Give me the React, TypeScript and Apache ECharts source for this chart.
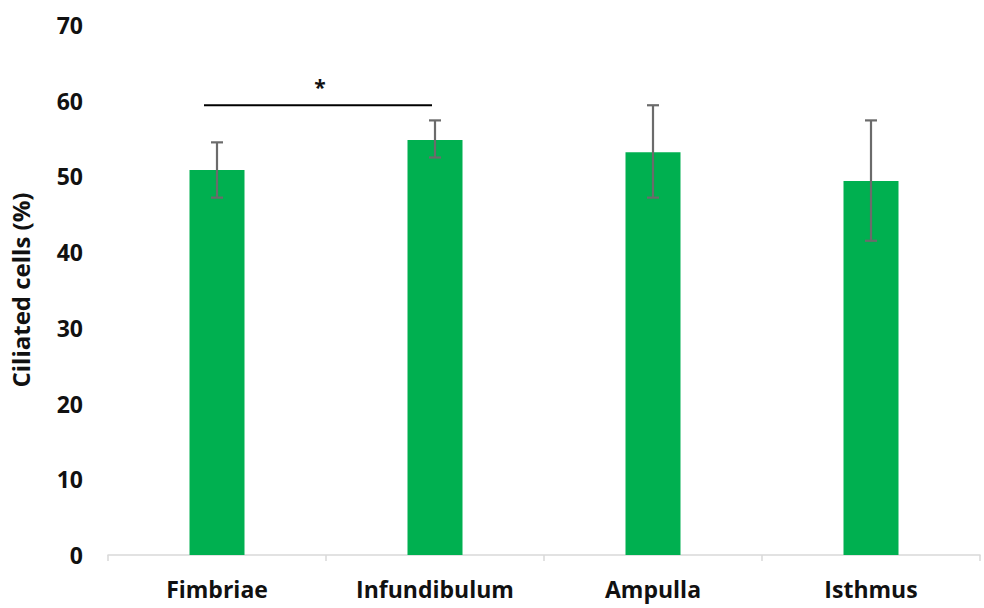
import React, { useEffect, useRef } from "react";
import * as echarts from "echarts";

const categories = ["Fimbriae", "Infundibulum", "Ampulla", "Isthmus"];
const means = [50.85, 54.8, 53.2, 49.4];
const errLow = [47.2, 52.5, 47.2, 41.5];
const errHigh = [54.5, 57.4, 59.4, 57.4];
const yTicks = { min: 0, max: 70, interval: 10 };
const sigPair = [0, 1];
const sigLevel = 59.4;
const sigMark = "*";

const FONT = "'Open Sans', 'Noto Sans', sans-serif";

export default function App() {
  const ref = useRef<HTMLDivElement>(null);
  useEffect(() => {
    if (!ref.current) return;
    const chart = echarts.init(ref.current, undefined, { renderer: "svg" });
    const errData = categories.map((_, i) => [i, errLow[i], errHigh[i]]);
    chart.setOption({
      animation: false,
      backgroundColor: "#ffffff",
      grid: { left: 108, right: 4, top: 25, bottom: 53, containLabel: false },
      xAxis: {
        type: "category",
        data: categories,
        axisLine: { show: true, lineStyle: { color: "#d9d9d9", width: 1.5 } },
        axisTick: { show: true, length: 6, lineStyle: { color: "#d9d9d9", width: 1.5 } },
        axisLabel: { color: "#111", fontSize: 23, fontWeight: "bold", fontFamily: FONT, margin: 22 },
        splitLine: { show: false },
      },
      yAxis: {
        type: "value",
        min: yTicks.min,
        max: yTicks.max,
        interval: yTicks.interval,
        name: "Ciliated cells (%)",
        nameLocation: "middle",
        nameRotate: 90,
        nameGap: 76,
        nameTextStyle: { color: "#111", fontSize: 24, fontWeight: "bold", fontFamily: FONT },
        axisLine: { show: false },
        axisTick: { show: false },
        splitLine: { show: false },
        axisLabel: { color: "#111", fontSize: 23, fontWeight: "bold", fontFamily: FONT, margin: 25 },
      },
      series: [
        {
          type: "bar",
          data: means,
          barWidth: 55,
          itemStyle: { color: "#00b050" },
          z: 2,
        },
        {
          type: "custom",
          data: errData,
          z: 3,
          renderItem: (params: any, api: any) => {
            const x = api.coord([api.value(0), 0])[0];
            const lo = api.coord([api.value(0), api.value(1)])[1];
            const hi = api.coord([api.value(0), api.value(2)])[1];
            const w = 6;
            const style = { stroke: "#6b6b6b", lineWidth: 2.2 };
            return {
              type: "group",
              children: [
                { type: "line", shape: { x1: x, y1: lo, x2: x, y2: hi }, style },
                { type: "line", shape: { x1: x - w, y1: hi, x2: x + w, y2: hi }, style },
                { type: "line", shape: { x1: x - w, y1: lo, x2: x + w, y2: lo }, style },
              ],
            };
          },
        },
        {
          type: "custom",
          data: [[sigPair[0], sigPair[1], sigLevel]],
          z: 4,
          renderItem: (params: any, api: any) => {
            const x1 = api.coord([api.value(0), 0])[0] - 13;
            const x2 = api.coord([api.value(1), 0])[0] - 3;
            const y = api.coord([0, api.value(2)])[1];
            return {
              type: "group",
              children: [
                { type: "line", shape: { x1, y1: y, x2, y2: y }, style: { stroke: "#000", lineWidth: 2.2 } },
                {
                  type: "text",
                  style: {
                    text: sigMark,
                    x: (x1 + x2) / 2 + 2,
                    y: y - 18,
                    align: "center",
                    verticalAlign: "middle",
                    fontSize: 21,
                    fontWeight: "bold",
                    fontFamily: FONT,
                    fill: "#111",
                  },
                },
              ],
            };
          },
        },
      ],
    });
    return () => chart.dispose();
  }, []);
  return (
    <div
      ref={ref}
      style={{ position: "absolute", left: 0, top: 0, width: 984, height: 608 }}
    />
  );
}
